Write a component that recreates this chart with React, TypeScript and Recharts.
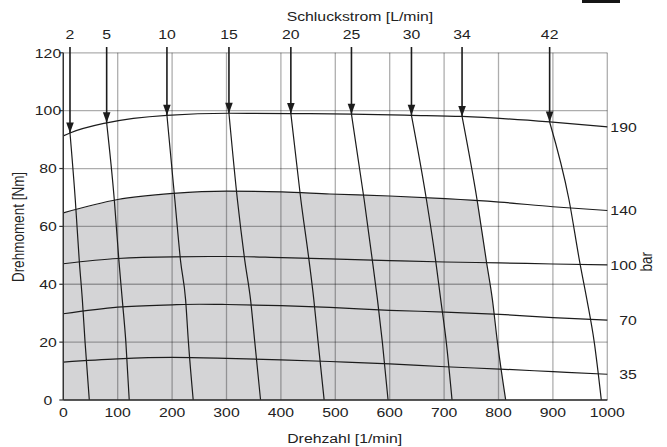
import React from "react";
import {
  Area,
  CartesianGrid,
  ComposedChart,
  Label,
  Line,
  ReferenceLine,
  Scatter,
  XAxis,
  YAxis,
} from "recharts";

type P = { x: number; y: number };

// axes
const speedTicks = [0, 100, 200, 300, 400, 500, 600, 700, 800, 900, 1000];
const torqueTicks = [0, 20, 40, 60, 80, 100, 120];
const flowLabels = ["2", "5", "10", "15", "20", "25", "30", "34", "42"];
const pressureLabels = ["190", "140", "100", "70", "35"];
const arrowStartY = 122;

// pressure curves (torque over speed)
const p190: P[] = [
  { x: 0, y: 91.3 }, { x: 12.3, y: 92.3 }, { x: 79.7, y: 95.8 }, { x: 190.5, y: 98.4 },
  { x: 304.5, y: 99.1 }, { x: 418.3, y: 99 }, { x: 529.7, y: 98.8 }, { x: 640, y: 98.4 },
  { x: 733, y: 98 }, { x: 894, y: 96.1 }, { x: 1000, y: 94.4 },
];
const p140: P[] = [
  { x: 0, y: 64.7 }, { x: 100, y: 69.3 }, { x: 202, y: 71.4 }, { x: 300, y: 72.2 },
  { x: 402, y: 71.9 }, { x: 490, y: 71.2 }, { x: 600, y: 70.5 }, { x: 702, y: 69.6 },
  { x: 802, y: 68.4 }, { x: 900, y: 66.8 }, { x: 1000, y: 65.5 },
];
const p100: P[] = [
  { x: 0, y: 47.1 }, { x: 100, y: 48.9 }, { x: 202, y: 49.5 }, { x: 300, y: 49.6 },
  { x: 402, y: 49.2 }, { x: 490, y: 48.8 }, { x: 600, y: 48.2 }, { x: 702, y: 47.7 },
  { x: 802, y: 47.4 }, { x: 900, y: 47 }, { x: 1000, y: 46.7 },
];
const p70: P[] = [
  { x: 0, y: 29.8 }, { x: 100, y: 32.1 }, { x: 200, y: 32.9 }, { x: 250, y: 33.1 },
  { x: 300, y: 33 }, { x: 400, y: 32.6 }, { x: 490, y: 32 }, { x: 600, y: 31 },
  { x: 702, y: 30.4 }, { x: 802, y: 29.6 }, { x: 900, y: 28.5 }, { x: 1000, y: 27.6 },
];
const p35: P[] = [
  { x: 0, y: 13.1 }, { x: 100, y: 14.2 }, { x: 200, y: 14.7 }, { x: 300, y: 14.4 },
  { x: 400, y: 13.9 }, { x: 490, y: 13.3 }, { x: 600, y: 12.5 }, { x: 702, y: 11.5 },
  { x: 802, y: 10.7 }, { x: 900, y: 9.8 }, { x: 1000, y: 8.9 },
];

// flow lines (Schluckstrom), top point = arrow tip on the 190 bar curve
const q2: P[] = [{ x: 12.3, y: 92.3 }, { x: 22, y: 69.3 }, { x: 29.4, y: 48 }, { x: 35, y: 34.7 }, { x: 40, y: 20 }, { x: 47.8, y: 0 }];
const q5: P[] = [{ x: 79.7, y: 95.8 }, { x: 93.7, y: 69.3 }, { x: 102.3, y: 48 }, { x: 108.4, y: 34.7 }, { x: 115, y: 20 }, { x: 121.2, y: 0 }];
const q10: P[] = [{ x: 190.5, y: 98.4 }, { x: 205, y: 69.3 }, { x: 215.6, y: 48 }, { x: 224.8, y: 34.7 }, { x: 230, y: 20 }, { x: 238.8, y: 0 }];
const q15: P[] = [{ x: 304.5, y: 99.1 }, { x: 320, y: 69.3 }, { x: 333.8, y: 48 }, { x: 344.2, y: 34.7 }, { x: 352, y: 20 }, { x: 362.6, y: 0 }];
const q20: P[] = [{ x: 418.3, y: 99 }, { x: 436.6, y: 69.3 }, { x: 451.9, y: 48 }, { x: 460.5, y: 34.7 }, { x: 468.4, y: 20 }, { x: 479.5, y: 0 }];
const q25: P[] = [{ x: 529.7, y: 98.8 }, { x: 553, y: 69.3 }, { x: 568.3, y: 48 }, { x: 577.5, y: 34.7 }, { x: 586.5, y: 20 }, { x: 597, y: 0 }];
const q30: P[] = [{ x: 640, y: 98.4 }, { x: 667.5, y: 69.3 }, { x: 684.6, y: 48 }, { x: 693.8, y: 34.7 }, { x: 704, y: 20 }, { x: 714.6, y: 0 }];
const q34: P[] = [{ x: 733, y: 98 }, { x: 760.5, y: 69.3 }, { x: 777.7, y: 48 }, { x: 788.8, y: 34.7 }, { x: 798, y: 20 }, { x: 813.2, y: 0 }];
const q42: P[] = [{ x: 894, y: 96.1 }, { x: 929.5, y: 69.3 }, { x: 949, y: 48 }, { x: 962.5, y: 34.7 }, { x: 976, y: 20 }, { x: 989, y: 0 }];

// continuous operating range (grey)
const shade: P[] = [
  { x: 0, y: 64.7 }, { x: 100, y: 69.3 }, { x: 202, y: 71.4 }, { x: 300, y: 72.2 },
  { x: 402, y: 71.9 }, { x: 490, y: 71.2 }, { x: 600, y: 70.5 }, { x: 702, y: 69.6 },
  { x: 762, y: 69.1 }, { x: 777.7, y: 48 }, { x: 788.8, y: 34.7 }, { x: 798, y: 20 },
  { x: 813.2, y: 0 },
];

const pressureCurves = [p190, p140, p100, p70, p35];
const flowLines = [q2, q5, q10, q15, q20, q25, q30, q34, q42];
const arrowTips = flowLines.map((l) => l[0]);
const flowX = arrowTips.map((t) => t.x);
const pressureEnds = pressureCurves.map((c) => c[c.length - 1].y);

const INK = "#1c1c1c";
const TEXT = "#222";
const FONT = '"Liberation Sans", Arial, Helvetica, sans-serif';
const FS = 13.5;
const SX = 1.17; // source image is a bit wider than tall

function StretchTick(props: any) {
  const { x, y, verticalAnchor, anchor, label } = props;
  const dy =
    verticalAnchor === "start" ? "0.71em" : verticalAnchor === "end" ? "0" : "0.355em";
  return (
    <text
      transform={`translate(${x},${y}) scale(${SX},1)`}
      textAnchor={anchor}
      dy={dy}
      fontSize={FS}
      fontFamily={FONT}
      fill={TEXT}
    >
      {label}
    </text>
  );
}

function Title({ x, y, text, rotate }: { x: number; y: number; text: string; rotate?: boolean }) {
  const t = rotate
    ? `translate(${x},${y}) rotate(-90) scale(1,${SX})`
    : `translate(${x},${y}) scale(${SX},1)`;
  return (
    <text transform={t} textAnchor="middle" fontSize={FS} fontFamily={FONT} fill={TEXT}>
      {text}
    </text>
  );
}

function Arrowhead(props: any) {
  const { cx, cy } = props;
  return (
    <polygon
      points={`${cx - 3.8},${cy - 10.5} ${cx + 3.8},${cy - 10.5} ${cx},${cy}`}
      fill={INK}
    />
  );
}

export default function App() {
  return (
    <div style={{ position: "absolute", left: 0, top: 0, width: 667, height: 447, background: "#fff" }}>
      <div style={{ position: "absolute", left: 582, top: 0, width: 38, height: 3, background: "#161616" }} />
      <ComposedChart
        width={667}
        height={447}
        margin={{ top: 0, right: 19.7, bottom: 17, left: 23.3 }}
      >
        <Area
          data={shade}
          dataKey="y"
          type="linear"
          stroke="none"
          fill="#262a33"
          fillOpacity={0.2}
          isAnimationActive={false}
          activeDot={false}
        />
        <CartesianGrid stroke="rgba(0,0,0,0.32)" strokeWidth={1.3} />
        <XAxis
          dataKey="x"
          type="number"
          domain={[0, 1000]}
          ticks={speedTicks}
          interval={0}
          height={30}
          axisLine={{ stroke: "#333", strokeWidth: 1.4 }}
          tickLine={false}
          tickSize={0}
          tickMargin={7}
          tick={(p: any) => <StretchTick {...p} anchor="middle" label={String(p.payload.value)} />}
        >
          <Label
            content={(p: any) => (
              <Title
                x={p.viewBox.x + p.viewBox.width / 2 + 9.4}
                y={p.viewBox.y + p.viewBox.height + 13}
                text="Drehzahl [1/min]"
              />
            )}
          />
        </XAxis>
        <XAxis
          xAxisId="top"
          orientation="top"
          dataKey="x"
          type="number"
          domain={[0, 1000]}
          ticks={flowX}
          interval={0}
          height={52.8}
          axisLine={false}
          tickLine={false}
          tickSize={0}
          tickMargin={13.5}
          tick={(p: any) => (
            <StretchTick {...p} anchor="middle" label={flowLabels[flowX.indexOf(p.payload.value)]} />
          )}
        >
          <Label
            content={(p: any) => (
              <Title
                x={p.viewBox.x + p.viewBox.width / 2 + 24.6}
                y={p.viewBox.y + 20.5}
                text="Schluckstrom [L/min]"
              />
            )}
          />
        </XAxis>
        <YAxis
          dataKey="y"
          type="number"
          domain={[0, 120]}
          ticks={torqueTicks}
          interval={0}
          width={40}
          axisLine={{ stroke: "#333", strokeWidth: 1.4 }}
          tickLine={{ stroke: "#333", strokeWidth: 1.2 }}
          tickSize={4}
          tickMargin={11.3}
          tick={(p: any) => <StretchTick {...p} anchor="middle" label={String(p.payload.value)} />}
        >
          <Label
            content={(p: any) => (
              <Title
                x={p.viewBox.x + 0.7}
                y={p.viewBox.y + p.viewBox.height / 2 + 0.6}
                text="Drehmoment [Nm]"
                rotate
              />
            )}
          />
        </YAxis>
        <YAxis
          yAxisId="right"
          orientation="right"
          dataKey="y"
          type="number"
          domain={[0, 120]}
          ticks={pressureEnds}
          interval={0}
          width={40}
          axisLine={false}
          tickLine={false}
          tickSize={0}
          tickMargin={29.4}
          tick={(p: any) => (
            <StretchTick
              {...p}
              anchor="end"
              label={pressureLabels[pressureEnds.indexOf(p.payload.value)]}
            />
          )}
        >
          <Label
            content={(p: any) => (
              <Title
                x={p.viewBox.x + 44.4}
                y={p.viewBox.y + p.viewBox.height / 2 + 35.3}
                text="bar"
                rotate
              />
            )}
          />
        </YAxis>

        {pressureCurves.map((c, i) => (
          <Line
            key={`p${i}`}
            yAxisId="right"
            data={c}
            dataKey="y"
            type="monotone"
            stroke={INK}
            strokeWidth={1.2}
            dot={false}
            activeDot={false}
            isAnimationActive={false}
          />
        ))}
        {flowLines.map((l, i) => (
          <Line
            key={`q${i}`}
            data={l}
            dataKey="y"
            type="monotone"
            stroke={INK}
            strokeWidth={1.2}
            dot={false}
            activeDot={false}
            isAnimationActive={false}
          />
        ))}
        {arrowTips.map((t, i) => (
          <ReferenceLine
            key={`a${i}`}
            segment={[
              { x: t.x, y: arrowStartY },
              { x: t.x, y: t.y },
            ]}
            ifOverflow="visible"
            stroke={INK}
            strokeWidth={1.6}
          />
        ))}
        <Scatter
          xAxisId="top"
          data={arrowTips}
          dataKey="y"
          shape={Arrowhead}
          isAnimationActive={false}
        />
      </ComposedChart>
    </div>
  );
}
